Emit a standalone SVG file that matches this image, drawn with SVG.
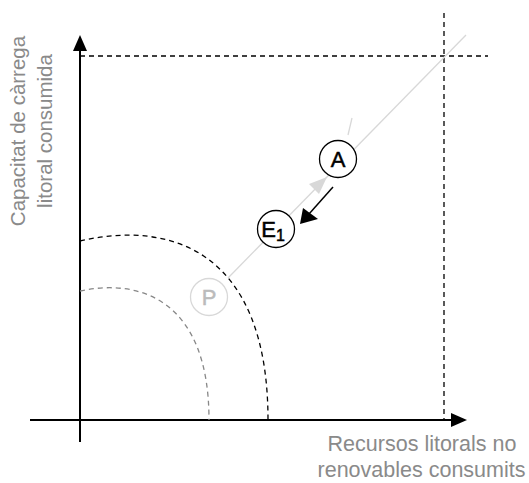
<svg xmlns="http://www.w3.org/2000/svg" width="529" height="483" viewBox="0 0 529 483">
<style>
.lbl{font-family:"Liberation Sans",Arial,sans-serif;font-size:20.5px;fill:#8a8a8a}
.xl{font-size:21.5px}
.node circle{fill:#fff;stroke:#000;stroke-width:1.3}
.node text{font-family:"Liberation Sans",Arial,sans-serif;font-size:22px;text-anchor:middle;fill:#000;stroke:#000;stroke-width:0.5}
.dash{fill:none;stroke-dasharray:5 4;stroke-width:1.3}
</style>
<g id="connectors">
<line x1="80" y1="442" x2="80" y2="50" stroke="#000" stroke-width="2"/>
<polygon points="80,35 73,51 87,51" fill="#000"/>
<line x1="30" y1="420" x2="452" y2="420" stroke="#000" stroke-width="2"/>
<polygon points="467,420 451,413 451,427" fill="#000"/>
<line class="dash" x1="80" y1="56" x2="488" y2="56" stroke="#000"/>
<line class="dash" x1="444" y1="13" x2="444" y2="420" stroke="#000"/>
<path class="dash" d="M80,241 C170,220 268,250 268,420" stroke="#000"/>
<path class="dash" d="M80,291 C140,278 209,300 209,420" stroke="#888"/>
<line x1="228" y1="278" x2="466" y2="35" stroke="#d8d8d8" stroke-width="1.3"/>
<line x1="352" y1="118" x2="348" y2="135" stroke="#d8d8d8" stroke-width="1.3"/>
<polygon points="327,177 309,184 319,194" fill="#d8d8d8"/>
<line x1="333" y1="187" x2="309" y2="214" stroke="#000" stroke-width="1.5"/>
<polygon points="300,224 303,208 318,219" fill="#000"/>
</g>
<g id="node-P" class="node">
<circle cx="209" cy="297" r="18.5" style="stroke:#d8d8d8"/>
<text x="209" y="305" style="fill:#bbb;stroke:#bbb">P</text>
</g>
<g id="node-E1" class="node">
<circle cx="276" cy="229" r="18.5"/>
<text x="273" y="237">E<tspan font-size="16" dy="4">1</tspan></text>
</g>
<g id="node-A" class="node">
<circle cx="338" cy="159" r="18.5"/>
<text x="338" y="167">A</text>
</g>
<g id="labels">
<text class="lbl" text-anchor="middle" transform="translate(25,131) rotate(-90)">Capacitat de càrrega</text>
<text class="lbl" text-anchor="middle" transform="translate(52,131) rotate(-90)">litoral consumida</text>
<text class="lbl xl" text-anchor="middle" x="422" y="451">Recursos litorals no</text>
<text class="lbl xl" text-anchor="middle" x="421.5" y="477">renovables consumits</text>
</g>
</svg>
